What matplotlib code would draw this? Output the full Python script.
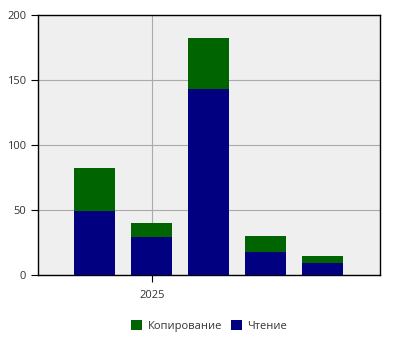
import matplotlib.pyplot as plt
import numpy as np

plt.rcParams['font.family'] = ['Open Sans', 'DejaVu Sans']

# stacked values per bar
reading = [49, 29, 143, 18, 9]
copying = [33, 11, 39, 12, 6]
tick_pos = [1]
tick_labels = ['2025']

fig = plt.figure(figsize=(4, 3.5), dpi=100)
ax = fig.add_axes([38/400, 1 - 275/350, (379.5-38)/400, 260/350])
ax.set_facecolor('#efefef')

x = np.arange(len(reading))
ax.bar(x, reading, width=0.72, color='#000080', label='Чтение', zorder=3)
ax.bar(x, copying, width=0.72, bottom=reading, color='#006400', label='Копирование', zorder=3)

ax.set_xlim(-1, 5)
ax.set_ylim(0, 200)
ax.set_yticks([0, 50, 100, 150, 200])
ax.set_xticks(tick_pos)
ax.set_xticklabels(tick_labels)
ax.grid(True, color='#aaaaaa', linewidth=0.8, zorder=0)
ax.tick_params(labelsize=8, colors='black', labelcolor='#333333', length=5, width=0.8)
ax.tick_params(axis='x', pad=6)
for s in ax.spines.values():
    s.set_color('black')
    s.set_linewidth(1)

h, l = ax.get_legend_handles_labels()
fig.legend(h[::-1], l[::-1], loc='center', bbox_to_anchor=(209/400, 1 - 326/350),
           ncol=2, frameon=False, fontsize=8, handlelength=1.0, handleheight=1.0,
           handletextpad=0.5, columnspacing=0.8, labelcolor='#333333')

fig.savefig('out.png', dpi=100)
